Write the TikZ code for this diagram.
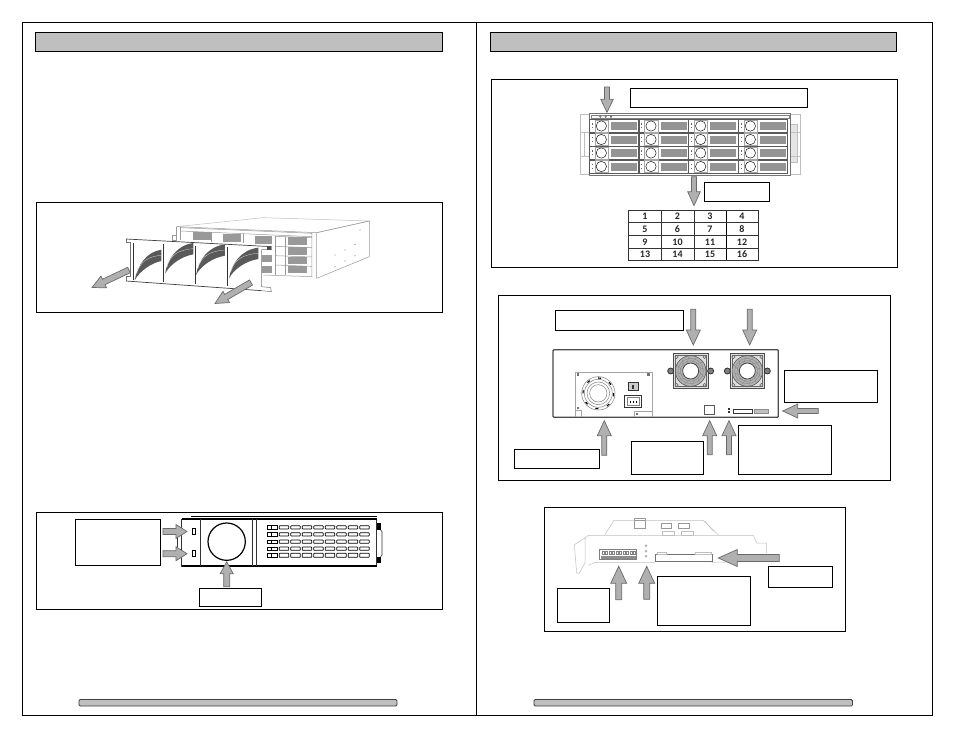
\documentclass[tikz,border=0pt]{standalone}
\usepackage{fontspec}
\setmainfont{Carlito}
\usetikzlibrary{calc}
\definecolor{hdr}{HTML}{BFBFBF}
\definecolor{arrfill}{HTML}{B0B0B0}
\definecolor{arrline}{HTML}{6A6A6A}
\tikzset{
  frame/.style={draw=black,line width=0.9pt},
  hdrbar/.style={draw=black,fill=hdr,line width=0.8pt},
  footbar/.style={draw=black!75,fill=hdr,line width=0.8pt,rounded corners=1.2pt},
  lblbox/.style={draw=black,fill=white,line width=0.8pt,inner sep=0pt,outer sep=0pt},
  blockarrow/.style={draw=arrline,fill=arrfill,line width=0.7pt,line join=miter},
  thin gray/.style={draw=black!40,line width=0.5pt},
  light gray/.style={draw=black!25,line width=0.5pt},
  cell/.style={draw=black!80,line width=0.5pt},
  cellnum/.style={font=\fontsize{10}{11}\selectfont\bfseries,text=black!85,inner sep=0pt},
  zoomed/.style={x=0.33333pt,y=-0.33333pt}
}
% label box: name, x1, y1, x2, y2
\newcommand{\lblrect}[5]{%
  \pgfmathsetmacro{\lw}{#4-#2}\pgfmathsetmacro{\lh}{#5-#3}%
  \node[lblbox,anchor=north west,minimum width=\lw pt,minimum height=\lh pt] (#1) at (#2,#3) {};}
% block arrow: tailx, taily, tipx, tipy, half shaft, half head, head length
\newcommand{\blkarrow}[7]{%
  \pgfmathsetmacro{\ang}{atan2(-(#4-#2),#3-#1)}%
  \pgfmathsetmacro{\len}{veclen(#3-#1,#4-#2)}%
  \begin{scope}[shift={(#1,#2)},rotate=\ang]
  \path[blockarrow] (0,-#5)--(\len-#7,-#5)--(\len-#7,-#6)--(\len,0)--(\len-#7,#6)--(\len-#7,#5)--(0,#5)--cycle;
  \end{scope}}
\begin{document}
\begin{tikzpicture}[x=1pt,y=-1pt]
\useasboundingbox (0,0) rectangle (954,737);
\fill[white] (0,0) rectangle (954,737);
% page frames
\draw[frame] (22,22) rectangle (476,715);
\draw[frame] (476,22) rectangle (932,715);
\draw[hdrbar] (35.5,32.5) rectangle (442,51);
\draw[hdrbar] (490.5,32.5) rectangle (896.5,51);
\draw[footbar] (79,699.5) rectangle (397,706);
\draw[footbar] (534,699.5) rectangle (852.5,706);
% figure boxes
\draw[frame] (36.7,202) rectangle (442.7,312.5);
\draw[frame] (36.7,512.5) rectangle (442.7,609.7);
\draw[frame] (491,79.7) rectangle (897.7,267.3);
\draw[frame] (498.3,295) rectangle (890,480);
\draw[frame] (544,507.3) rectangle (845,631.3);

% ---------- figure 1: chassis with bezel removed
\begin{scope}[shift={(30,195)},zoomed]
  \draw[light gray] (440,95)--(700,68)--(1018,78)--(860,113);
  \draw[thin gray] (440,95)--(860,113)--(860,250);
  \draw[thin gray] (860,113)--(1018,78)--(1018,185)--(860,250);
  \draw[thin gray] (452,98)--(846,115)--(846,245)--(700,240);
  \draw[thin gray] (452,108)--(846,125);
  \draw[thin gray] (440,95)--(440,135);
  \draw[thin gray] (450,97)--(450,135);
  \draw[thin gray] (428,122) rectangle (440,135);
  \foreach \p in {(490,112),(580,118),(675,122)}{
    \fill[black!40] \p rectangle ++(52,24);
  }
  \draw[thin gray] (545,112)--(545,142);
  \draw[thin gray] (640,118)--(640,145);
  \draw[thin gray] (735,122)--(735,240);
  \draw[thin gray] (765,125)--(765,240);
  \foreach \y in {127,157,185,213}{
    \fill[black!40] (775,\y) rectangle ++(55,22);
    \draw[thin gray] (735,\y-3)--(846,\y+1);
  }
  \foreach \y in {180,212}{\fill[black!40] (697,\y) rectangle ++(30,22);}
  \foreach \q in {(915,180),(945,165),(975,148),(915,215),(945,198),(975,182),(990,105)}{
    \fill[black!45] \q circle (2);
  }
  % bezel panel
  \path[fill=white] (288,132)--(725,155)--(725,164)--(695,164)--(695,284)--(288,258)--cycle;
  \draw[black!55,line width=0.5pt] (288,132)--(288,143)--(300,143)--(300,244)--(288,244)--(288,258);
  \draw[black!55,line width=0.5pt] (725,155)--(725,164)--(695,164)--(695,275)--(722,278)--(724,290)--(695,287);
  \draw[black!75,line width=0.7pt] (288,132)--(725,155);
  \draw[black!75,line width=0.7pt] (288,258)--(695,287);
  \foreach \x/\a/\b in {310/145/255,400/148/260,495/152/266,592/156/272}{
    \draw[black!80,line width=0.9pt] (\x,\a)--(\x,\b);
  }
  \foreach \x/\y/\dx in {314/256/80,405/236/85,498/240/87,597/250/88}{
    \fill[black!65] (\x,\y) .. controls (\x+8,\y-45) and (\x+35,\y-85) .. (\x+\dx,\y-92)
       -- (\x+\dx,\y-58) .. controls (\x+50,\y-52) and (\x+15,\y-28) .. cycle;
    \draw[white,line width=0.2pt] (\x+6,\y-20) .. controls (\x+15,\y-55) and (\x+40,\y-72) .. (\x+\dx,\y-75);
  }
  \fill[black!70] (712,154) rectangle (722,164);
\end{scope}
\blkarrow{129}{270}{92}{287.5}{3}{6.5}{13}
\blkarrow{251}{282.5}{215}{303.5}{3}{6.5}{13}

% ---------- figure 2: bezel front
\begin{scope}[shift={(30,505)},zoomed]
  \draw[black!80,line width=0.8pt] (455,42)--(1040,42)--(1040,183)--(455,183)--cycle;
  \draw[black,line width=1.6pt] (483,35)--(1040,35);
  \draw[black,line width=1.2pt] (455,42)--(1040,42);
  \draw[black,line width=1.2pt] (455,183)--(1040,183);
  \draw[black!80,line width=0.7pt] (512,42)--(512,183);
  \draw[black!80,line width=0.7pt] (668,42)--(668,183);
  \draw[black!80,line width=0.7pt] (680,42)--(680,183);
  \draw[black,line width=1.2pt] (590,110) circle (56);
  \fill[black] (443,68) rectangle (455,88);
  \fill[black] (443,132) rectangle (455,152);
  \draw[black!80,line width=0.6pt] (443,88)--(443,132);
  \fill[black] (1040,55) rectangle (1052,75);
  \fill[black] (1040,155) rectangle (1052,175);
  \draw[black!80,line width=0.6pt] (1052,75)--(1056,80)--(1056,150)--(1052,155);
  \draw[black,line width=0.7pt] (486,70) rectangle (497,87);
  \draw[black,line width=0.7pt] (486,137) rectangle (497,155);
  \foreach \y/\h in {62/10,83/10,105/10,126/10,145/12}{
    \draw[black,line width=0.7pt] (712,\y) rectangle ++(11,\h);
    \draw[black,line width=0.7pt] (723,\y) rectangle ++(20,\h);
    \foreach \c in {0,...,7}{
      \draw[black,line width=0.7pt,rounded corners=0.5pt] (748+\c*34.5,\y) rectangle ++(28,\h);
    }
  }
\end{scope}
\lblrect{lblA}{75.3}{519.3}{160.7}{565.7}
\lblrect{lblB}{199.3}{588.3}{261.3}{606}
\blkarrow{163}{531.5}{187}{531.5}{3}{7}{11}
\blkarrow{163}{553.7}{187}{553.7}{3}{7}{11}
\blkarrow{226.7}{586.7}{226.7}{561.7}{3}{6.5}{12}

% ---------- figure 3: chassis front
\begin{scope}[shift={(485,75)},zoomed]
  \draw[light gray] (285,117) rectangle (312,298);
  \draw[light gray] (915,117) rectangle (945,298);
  \draw[light gray] (297,172) rectangle (312,245);
  \draw[light gray] (285,172)--(297,172) (285,245)--(297,245);
  \draw[light gray,fill=black!10] (915,148) rectangle (938,262);
  \draw[light gray] (915,172)--(945,172) (915,245)--(945,245);
  \draw[black!55,line width=0.7pt] (312,115)--(915,115)--(915,300)--(312,300)--cycle;
  \draw[black!50,line width=0.5pt] (318,120) rectangle (912,130);
  \foreach \x in {346,362,378}{\draw[black!70,line width=0.4pt] (\x,125) circle (2.5);}
  \foreach \c in {0,...,3}{
    \pgfmathsetmacro{\bx}{313+149*\c}
    \fill[black!75] (\bx+2,131) rectangle ++(144,2);
    \fill[black!75] (\bx+2,295) rectangle ++(144,3);
    \foreach \r in {0,...,3}{
      \pgfmathsetmacro{\by}{134+40.5*\r}
      \draw[black!65,line width=0.6pt] (\bx,\by) rectangle ++(148,38);
      \draw[black!35,line width=0.4pt] (\bx+17,\by+1) rectangle ++(40,36);
      \draw[black!90,line width=0.5pt] (\bx+36,\by+19) circle (15.5);
      \fill[black!42] (\bx+65,\by+7) rectangle ++(78,24);
      \fill[black!60] (\bx+7,\by+11) rectangle ++(2,4);
      \fill[black!60] (\bx+7,\by+22) rectangle ++(2,4);
    }
  }
\end{scope}
\lblrect{lblC}{630.7}{88.3}{807.7}{107.3}
\lblrect{lblD}{704.3}{182.3}{769.3}{201.3}
\blkarrow{607}{87}{607}{112.3}{2.5}{6.3}{13}
\blkarrow{694}{176.7}{694}{205.7}{2.5}{6.3}{14}
% drive table
\foreach \x in {628.3,661.7,694.7,758.3}{\draw[cell] (\x,210)--(\x,260.7);}
\draw[black,line width=0.7pt] (726,210)--(726,260.7);
\foreach \y in {210,222.7,235.7,248,260.7}{\draw[cell] (628.3,\y)--(758.3,\y);}
\node[cellnum] (c1) at (645,216.5) {1};
\node[cellnum] (c2) at (677.5,216.5) {2};
\node[cellnum] (c3) at (710,216.5) {3};
\node[cellnum] (c4) at (742,216.5) {4};
\node[cellnum] (c5) at (645,229) {5};
\node[cellnum] (c6) at (677.5,229) {6};
\node[cellnum] (c7) at (710,229) {7};
\node[cellnum] (c8) at (742,229) {8};
\node[cellnum] (c9) at (645,241.8) {9};
\node[cellnum] (c10) at (677.5,241.8) {10};
\node[cellnum] (c11) at (710,241.8) {11};
\node[cellnum] (c12) at (742,241.8) {12};
\node[cellnum] (c13) at (645,254.5) {13};
\node[cellnum] (c14) at (677.5,254.5) {14};
\node[cellnum] (c15) at (710,254.5) {15};
\node[cellnum] (c16) at (742,254.5) {16};

% ---------- figure 4: chassis rear
\begin{scope}[shift={(495,290)},zoomed]
  \draw[black!70,line width=1.2pt,rounded corners=1pt] (174,179) rectangle (850,382);
  \draw[black!35,line width=0.6pt] (242,382)--(242,248)--(472,248)--(472,382);
  \draw[black!35,line width=0.6pt] (242,362)--(258,362)--(258,382);
  \draw[black!35,line width=0.6pt] (417,382)--(417,365)--(472,365);
  \fill[black!55] (245,250) rectangle ++(8,8);
  \fill[black!55] (456,250) rectangle ++(8,8);
  \fill[black!55] (245,350) rectangle ++(6,6);
  \fill[black!55] (424,368) rectangle ++(6,6);
  \foreach \r in {50,42,34,26}{\draw[black!50,line width=0.5pt] (310,310) circle (\r);}
  \draw[black,line width=1.1pt,dash pattern=on 3pt off 9pt] (310,310) circle (46);
  \draw[black!80,line width=0.7pt,fill=black!20] (400,278) rectangle (430,302);
  \fill[black!80] (412,285) rectangle (418,296);
  \draw[black!80,line width=0.7pt] (388,315) rectangle (440,352);
  \draw[black!50,line width=0.5pt] (396,323)--(432,323)--(432,345)--(396,345)--cycle;
  \foreach \x in {405,414,423}{\fill[black] (\x,333) rectangle ++(3,5);}
  \foreach \cx in {587,757}{
    \draw[black!70,line width=0.8pt,fill=black!12] (\cx-52,191) rectangle (\cx+52,295);
    \draw[black!60,line width=0.5pt] (\cx-46,197) rectangle (\cx+46,289);
    \fill[black!30] (\cx,243) circle (46);
    \fill[white] (\cx,243) circle (24);
    \draw[black!70,line width=0.5pt] (\cx,243) circle (46);
    \draw[black!50,line width=0.35pt] (\cx,243) circle (38);
    \draw[black!50,line width=0.35pt] (\cx,243) circle (31);
    \draw[black!75,line width=0.8pt] (\cx,243) circle (24);
    \foreach \a in {0,30,...,330}{\draw[black!50,line width=0.25pt] ($(\cx,243)+(\a:24)$)--($(\cx,243)+(\a+25:46)$);}
    \foreach \dx/\dy in {-42/-42,42/-42,-42/42,42/42}{\draw[black!60,line width=0.5pt,fill=black!15] ($(\cx,243)+(\dx,\dy)$) circle (5);}
    \draw[black!80,line width=0.8pt,fill=black!50] (\cx-60,243) circle (9);
    \draw[black!80,line width=0.8pt,fill=black!50] (\cx+60,243) circle (9);
  }
  \draw[black!65,line width=0.7pt] (628,345) rectangle (657,372);
  \fill[black!80] (700,355) rectangle ++(4,4);
  \fill[black!80] (700,364) rectangle ++(4,4);
  \draw[black!80,line width=0.8pt] (714,357) rectangle (772,370);
  \draw[black!45,line width=0.6pt,fill=black!25] (778,357) rectangle (820,370);
\end{scope}
\lblrect{lblE}{555.3}{310}{683.7}{330.7}
\lblrect{lblF}{784.3}{370}{877.7}{402.7}
\lblrect{lblG}{514.3}{449.3}{599.7}{468.7}
\lblrect{lblH}{631.3}{441.3}{703.7}{474.3}
\lblrect{lblI}{738.3}{425}{831.7}{474.3}
\blkarrow{693.3}{309.3}{693.3}{345}{2.5}{7}{15}
\blkarrow{749.7}{309.3}{749.7}{345}{2.5}{7}{15}
\blkarrow{818.3}{411}{782.7}{411}{2.5}{7}{15}
\blkarrow{604.3}{455.3}{604.3}{420.7}{2.5}{7}{15}
\blkarrow{709.7}{454.7}{709.7}{420.7}{2.5}{7}{15}
\blkarrow{729}{454.7}{729}{420.7}{2.5}{7}{15}

% ---------- figure 5: controller card
\begin{scope}[shift={(540,503)},zoomed]
  \draw[light gray] (103,125)--(135,105)--(135,180)--(118,210)--(110,210)--(103,125);
  \draw[light gray] (135,105)--(145,97)--(640,97)--(650,120)--(680,120)--(680,150);
  \draw[light gray] (145,187)--(165,178)--(345,178);
  \draw[light gray] (515,178)--(600,176);
  \draw[light gray] (195,95)--(222,52)--(283,52) (315,52)--(490,52)--(535,95);
  \draw[light gray] (495,55)--(520,85);
  \draw[thin gray] (283,45) rectangle (315,75);
  \draw[thin gray] (283,52)--(315,52);
  \draw[thin gray] (365,62) rectangle (395,76);
  \draw[thin gray] (415,62) rectangle (447,76);
  \draw[light gray] (368,85) rectangle (402,97);
  \draw[light gray] (424,85) rectangle (460,97);
  \draw[black!50,line width=0.5pt] (178,140) rectangle (290,168);
  \fill[black!45] (182,160) rectangle (288,168);
  \foreach \c in {0,...,9}{\draw[black!50,line width=0.5pt] (186+\c*10.5,146) rectangle ++(6,9);}
  \foreach \y in {128,145,160}{\draw[black!35,line width=0.5pt] (318,\y) circle (3);}
  \draw[black!55,line width=0.6pt] (347,155) rectangle (518,175);
  \draw[black!25,line width=0.5pt] (352,148) rectangle (380,155);
  \draw[black!25,line width=0.5pt] (465,148) rectangle (515,155);
\end{scope}
\lblrect{lblJ}{557.3}{588.3}{609.7}{622.3}
\lblrect{lblK}{657.3}{576.3}{750.7}{625.3}
\lblrect{lblL}{768.3}{566.3}{832.7}{587.3}
\blkarrow{618.7}{599.7}{618.7}{566.3}{3}{8}{17}
\blkarrow{646.7}{599.3}{646.7}{566.3}{3}{8}{17}
\blkarrow{779.3}{558}{718.3}{558}{3.5}{8.5}{19}
\end{tikzpicture}
\end{document}
